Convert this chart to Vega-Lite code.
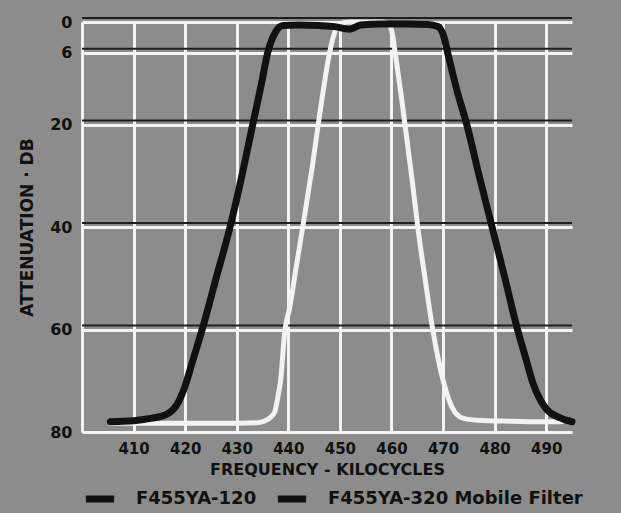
{
  "$schema": "https://vega.github.io/schema/vega-lite/v6.json",
  "width": 490,
  "height": 410,
  "autosize": {"type": "none"},
  "padding": {"left": 82, "top": 22, "right": 49, "bottom": 81},
  "background": "#8c8c8c",
  "config": {
    "view": {"stroke": null, "fill": "#8c8c8c"},
    "font": "DejaVu Sans",
    "axis": {
      "labelFont": "DejaVu Sans",
      "titleFont": "DejaVu Sans",
      "labelFontWeight": "bold",
      "titleFontWeight": "bold",
      "labelColor": "#111111",
      "titleColor": "#111111",
      "gridColor": "#f4f4f4",
      "gridWidth": 3,
      "gridOpacity": 1,
      "domain": false,
      "ticks": false,
      "labelFlush": false
    }
  },
  "datasets": {
    "curves": [
      {"filter": "F455YA-320 Mobile Filter", "freq": 405.5, "db": 78.3},
      {"filter": "F455YA-320 Mobile Filter", "freq": 420, "db": 78.3},
      {"filter": "F455YA-320 Mobile Filter", "freq": 430, "db": 78.3},
      {"filter": "F455YA-320 Mobile Filter", "freq": 434, "db": 78.2},
      {"filter": "F455YA-320 Mobile Filter", "freq": 435.5, "db": 77.8},
      {"filter": "F455YA-320 Mobile Filter", "freq": 436.7, "db": 77},
      {"filter": "F455YA-320 Mobile Filter", "freq": 437.4, "db": 76},
      {"filter": "F455YA-320 Mobile Filter", "freq": 438, "db": 73},
      {"filter": "F455YA-320 Mobile Filter", "freq": 438.5, "db": 70},
      {"filter": "F455YA-320 Mobile Filter", "freq": 439.3, "db": 60.5},
      {"filter": "F455YA-320 Mobile Filter", "freq": 440.3, "db": 55.6},
      {"filter": "F455YA-320 Mobile Filter", "freq": 441.5, "db": 48},
      {"filter": "F455YA-320 Mobile Filter", "freq": 442.8, "db": 40},
      {"filter": "F455YA-320 Mobile Filter", "freq": 444.6, "db": 28.5},
      {"filter": "F455YA-320 Mobile Filter", "freq": 446.5, "db": 15.2},
      {"filter": "F455YA-320 Mobile Filter", "freq": 448, "db": 6},
      {"filter": "F455YA-320 Mobile Filter", "freq": 449, "db": 2},
      {"filter": "F455YA-320 Mobile Filter", "freq": 450, "db": 0.3},
      {"filter": "F455YA-320 Mobile Filter", "freq": 452, "db": 0},
      {"filter": "F455YA-320 Mobile Filter", "freq": 455, "db": 0},
      {"filter": "F455YA-320 Mobile Filter", "freq": 458, "db": 0},
      {"filter": "F455YA-320 Mobile Filter", "freq": 459.5, "db": 0.4},
      {"filter": "F455YA-320 Mobile Filter", "freq": 460.1, "db": 2},
      {"filter": "F455YA-320 Mobile Filter", "freq": 461, "db": 8},
      {"filter": "F455YA-320 Mobile Filter", "freq": 462, "db": 15.2},
      {"filter": "F455YA-320 Mobile Filter", "freq": 464, "db": 30.8},
      {"filter": "F455YA-320 Mobile Filter", "freq": 465.1, "db": 40},
      {"filter": "F455YA-320 Mobile Filter", "freq": 466.5, "db": 50},
      {"filter": "F455YA-320 Mobile Filter", "freq": 468, "db": 60},
      {"filter": "F455YA-320 Mobile Filter", "freq": 470, "db": 69.9},
      {"filter": "F455YA-320 Mobile Filter", "freq": 471.7, "db": 75.1},
      {"filter": "F455YA-320 Mobile Filter", "freq": 473.8, "db": 77.3},
      {"filter": "F455YA-320 Mobile Filter", "freq": 476.6, "db": 77.7},
      {"filter": "F455YA-320 Mobile Filter", "freq": 483, "db": 77.9},
      {"filter": "F455YA-320 Mobile Filter", "freq": 490, "db": 78},
      {"filter": "F455YA-320 Mobile Filter", "freq": 493, "db": 78},
      {"filter": "F455YA-120", "freq": 405.5, "db": 78},
      {"filter": "F455YA-120", "freq": 410, "db": 77.8},
      {"filter": "F455YA-120", "freq": 413, "db": 77.4},
      {"filter": "F455YA-120", "freq": 416.5, "db": 76.5},
      {"filter": "F455YA-120", "freq": 418.5, "db": 74.5},
      {"filter": "F455YA-120", "freq": 420, "db": 71},
      {"filter": "F455YA-120", "freq": 421.5, "db": 66},
      {"filter": "F455YA-120", "freq": 423.3, "db": 60},
      {"filter": "F455YA-120", "freq": 426, "db": 50},
      {"filter": "F455YA-120", "freq": 428.7, "db": 40},
      {"filter": "F455YA-120", "freq": 431, "db": 30},
      {"filter": "F455YA-120", "freq": 433.1, "db": 20},
      {"filter": "F455YA-120", "freq": 434.8, "db": 12},
      {"filter": "F455YA-120", "freq": 436, "db": 6},
      {"filter": "F455YA-120", "freq": 437.5, "db": 2},
      {"filter": "F455YA-120", "freq": 439, "db": 0.7},
      {"filter": "F455YA-120", "freq": 442, "db": 0.6},
      {"filter": "F455YA-120", "freq": 446, "db": 0.7},
      {"filter": "F455YA-120", "freq": 449, "db": 0.9},
      {"filter": "F455YA-120", "freq": 451.9, "db": 1.4},
      {"filter": "F455YA-120", "freq": 454, "db": 0.6},
      {"filter": "F455YA-120", "freq": 458, "db": 0.4},
      {"filter": "F455YA-120", "freq": 463, "db": 0.4},
      {"filter": "F455YA-120", "freq": 467, "db": 0.5},
      {"filter": "F455YA-120", "freq": 469, "db": 0.9},
      {"filter": "F455YA-120", "freq": 470.2, "db": 3},
      {"filter": "F455YA-120", "freq": 470.9, "db": 6},
      {"filter": "F455YA-120", "freq": 472.6, "db": 13},
      {"filter": "F455YA-120", "freq": 474.6, "db": 20},
      {"filter": "F455YA-120", "freq": 477, "db": 30},
      {"filter": "F455YA-120", "freq": 479.5, "db": 40},
      {"filter": "F455YA-120", "freq": 482, "db": 50},
      {"filter": "F455YA-120", "freq": 484.3, "db": 59.5},
      {"filter": "F455YA-120", "freq": 486, "db": 65.5},
      {"filter": "F455YA-120", "freq": 487.4, "db": 70.4},
      {"filter": "F455YA-120", "freq": 489, "db": 74},
      {"filter": "F455YA-120", "freq": 490.1, "db": 75.6},
      {"filter": "F455YA-120", "freq": 492.6, "db": 77.2},
      {"filter": "F455YA-120", "freq": 495, "db": 78}
    ],
    "gridlines": [
      {"level": 0}, {"level": 6}, {"level": 20}, {"level": 40}, {"level": 60}
    ]
  },
  "layer": [
    {
      "data": {"name": "gridlines"},
      "mark": {"type": "rule", "color": "#1e1e1e", "strokeWidth": 2, "yOffset": -4},
      "encoding": {
        "y": {"field": "level", "type": "quantitative", "scale": {"domain": [0, 80], "reverse": true, "nice": false}}
      }
    },
    {
      "data": {"name": "curves"},
      "transform": [{"filter": "datum.filter == 'F455YA-320 Mobile Filter'"}],
      "mark": {"type": "line", "color": "#f2f2f2", "strokeWidth": 5, "interpolate": "monotone", "strokeCap": "round", "strokeJoin": "round"},
      "encoding": {
        "x": {"field": "freq", "type": "quantitative"},
        "y": {"field": "db", "type": "quantitative"}
      }
    },
    {
      "data": {"name": "curves"},
      "transform": [{"filter": "datum.filter == 'F455YA-120'"}],
      "mark": {"type": "line", "strokeWidth": 7, "interpolate": "monotone", "strokeCap": "round", "strokeJoin": "round"},
      "encoding": {
        "x": {
          "field": "freq",
          "type": "quantitative",
          "scale": {"domain": [400, 495], "nice": false, "zero": false},
          "axis": {
            "title": "FREQUENCY - KILOCYCLES",
            "values": [400, 405, 410, 415, 420, 425, 430, 435, 440, 445, 450, 455, 460, 465, 470, 475, 480, 485, 490, 495],
            "labelExpr": "(datum.value % 10 == 0 && datum.value >= 410 && datum.value <= 490) ? datum.label : ''",
            "labelFontSize": 15,
            "labelPadding": 9,
            "titleFontSize": 16,
            "titlePadding": 5
          }
        },
        "y": {
          "field": "db",
          "type": "quantitative",
          "scale": {"domain": [0, 80], "reverse": true, "nice": false},
          "axis": {
            "title": "ATTENUATION · DB",
            "values": [0, 6, 20, 40, 60, 80],
            "labelFontSize": 16,
            "labelPadding": 10,
            "titleFontSize": 17,
            "titlePadding": 13
          }
        },
        "color": {
          "field": "filter",
          "type": "nominal",
          "scale": {"domain": ["F455YA-120", "F455YA-320 Mobile Filter"], "range": ["#111111", "#111111"]},
          "legend": {
            "title": null,
            "orient": "none",
            "legendX": 0,
            "legendY": 459,
            "direction": "horizontal",
            "symbolType": "stroke",
            "symbolSize": 800,
            "symbolStrokeWidth": 7,
            "labelFont": "DejaVu Sans",
            "labelFontWeight": "bold",
            "labelFontSize": 18,
            "labelColor": "#111111",
            "labelLimit": 400,
            "labelOffset": 18,
            "columnPadding": 6
          }
        }
      }
    }
  ]
}
